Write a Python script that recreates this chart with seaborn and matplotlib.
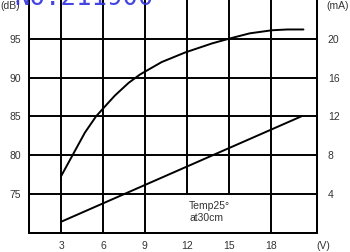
import numpy as np
import seaborn as sns
import pandas as pd
import matplotlib.pyplot as plt

# sound level (dB) vs voltage
volts_db = [3.0, 4.7, 5.5, 6.3, 6.86, 7.82, 8.65, 10.2, 11.9, 13.8, 15.1, 16.5, 18.1, 19.2, 20.35]
level_db = [77.3, 82.9, 85.0, 86.6, 87.7, 89.3, 90.4, 92.0, 93.25, 94.4, 95.05, 95.7, 96.1, 96.2, 96.2]

# current (mA) vs voltage
volts_ma = [3.0, 20.2]
current_ma = [1.13, 12.0]

x_ticks = [3, 6, 9, 12, 15, 18]
db_ticks = [75, 80, 85, 90, 95]
ma_ticks = [4, 8, 12, 16, 20]
short_grid = [12, 15]   # these stop at the 75 dB line (room for the note)

sns.set_theme(style='white')
plt.rcParams['font.family'] = ['Liberation Sans', 'DejaVu Sans']

fig = plt.figure(figsize=(3.5, 2.52), dpi=100)
ax = fig.add_axes([29.3 / 350, 19.3 / 252, 287.4 / 350, 232.7 / 252])
ax2 = ax.twinx()

df_db = pd.DataFrame({'V': volts_db, 'dB': level_db})
df_ma = pd.DataFrame({'V': volts_ma, 'mA': current_ma})

sns.lineplot(data=df_db, x='V', y='dB', ax=ax, color='black', linewidth=1.4)
sns.lineplot(data=df_ma, x='V', y='mA', ax=ax2, color='black', linewidth=1.4)

ax.set_xlim(0.72, 21.3)
ax.set_ylim(70, 100)
ax2.set_ylim(0, 24)

for y in db_ticks:
    ax.axhline(y, color='black', linewidth=1.4, zorder=1)
for x in x_ticks:
    ymin = (75 - 70) / 30 if x in short_grid else 0
    ax.axvline(x, ymin=ymin, color='black', linewidth=1.4, zorder=1)

ax.set_xticks(x_ticks)
ax.set_yticks(db_ticks)
ax2.set_yticks(ma_ticks)
ax.tick_params(axis='both', length=0, labelsize=7.5, colors='#333333', pad=6)
ax2.tick_params(axis='y', length=0, labelsize=7.5, colors='#333333', pad=8)
ax.set_xlabel('')
ax.set_ylabel('')
ax2.set_ylabel('')

for a in (ax, ax2):
    a.spines['top'].set_visible(False)
    for s in ['left', 'right', 'bottom']:
        a.spines[s].set_color('black')
        a.spines[s].set_linewidth(1.4)

ax.text(0.556, 0.135, 'Temp25°\nat30cm', transform=ax.transAxes, fontsize=7.5,
        va='top', ha='left', color='#333333', linespacing=1.25)

fig.text(323 / 350, 1 - 246 / 252, '(V)', fontsize=7.5, ha='center', va='center', color='#333333')
fig.text(338 / 350, 1 - 6 / 252, '(mA)', fontsize=7.5, ha='center', va='center', color='#333333')
fig.text(0, 1 - 6 / 252, '(dB)', fontsize=7.5, ha='left', va='center', color='#333333')

# watermark, mostly cut off by the top edge
fig.text(14 / 350, 1 - 5 / 252, 'NO.211900', fontsize=18.5, ha='left', va='baseline',
         color='#3030e0', family='DejaVu Sans Mono', fontweight='light', alpha=0.9)

plt.savefig('out.png', dpi=100)
